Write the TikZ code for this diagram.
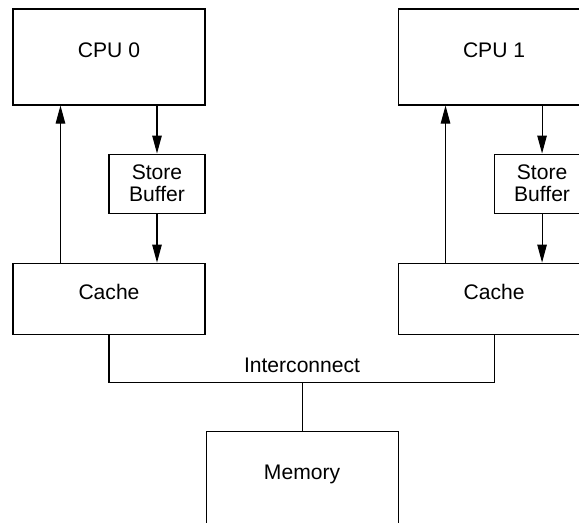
\documentclass[tikz,border=0pt]{standalone}
\usepackage{fontspec}
\setmainfont{Liberation Sans}
\usetikzlibrary{arrows.meta,positioning}

\begin{document}
\begin{tikzpicture}[
  unit/.style={draw, line width=0.6pt, minimum width=3.84cm, inner sep=0pt,
               font=\fontsize{12}{14}\selectfont, text height=0.31cm, text depth=0.28cm},
  sbuf/.style={draw, line width=0.6pt, minimum width=1.92cm, minimum height=1.18cm,
               inner sep=0pt, align=center, font=\fontsize{12}{12.5}\selectfont},
  arrow/.style={-{Triangle[length=3.6mm, width=1.9mm]}, line width=0.6pt},
  wire/.style={line width=0.6pt}
]
\useasboundingbox (0,0) rectangle (11.58,-10.44);
\clip (0,0) rectangle (11.58,-10.44);

\node[unit, minimum height=1.92cm] (cpu0) at (2.18,-1.14) {CPU 0};
\node[sbuf, below left=0.96cm and 0cm of cpu0.south east] (sb0) {Store\\Buffer};
\node[unit, minimum height=1.42cm, below left=0.98cm and 0cm of sb0.south east] (cache0) {Cache};

\node[unit, minimum height=1.92cm, right=3.84cm of cpu0] (cpu1) {CPU 1};
\node[sbuf, below left=0.96cm and 0cm of cpu1.south east] (sb1) {Store\\Buffer};
\node[unit, minimum height=1.42cm, below left=0.98cm and 0cm of sb1.south east] (cache1) {Cache};

\node[unit, minimum height=1.92cm, below right=1.92cm and 0cm of cache0.south east] (mem) {Memory};

\draw[arrow] (sb0.north |- cpu0.south) -- (sb0.north);
\draw[arrow] (sb0.south) -- (sb0.south |- cache0.north);
\draw[arrow] ([xshift=0.96cm]cache0.north west) -- ([xshift=0.96cm]cpu0.south west);

\draw[arrow] (sb1.north |- cpu1.south) -- (sb1.north);
\draw[arrow] (sb1.south) -- (sb1.south |- cache1.north);
\draw[arrow] ([xshift=0.96cm]cache1.north west) -- ([xshift=0.96cm]cpu1.south west);

% interconnect
\draw[wire] (cache0.south) -- ++(0,-0.96) coordinate (busl) -| (cache1.south);
\draw[wire] (mem.north) -- (mem.north |- busl);
\node[above=0.07cm, font=\fontsize{12}{14}\selectfont] (icn) at (mem.north |- busl) {Interconnect};
\end{tikzpicture}
\end{document}
